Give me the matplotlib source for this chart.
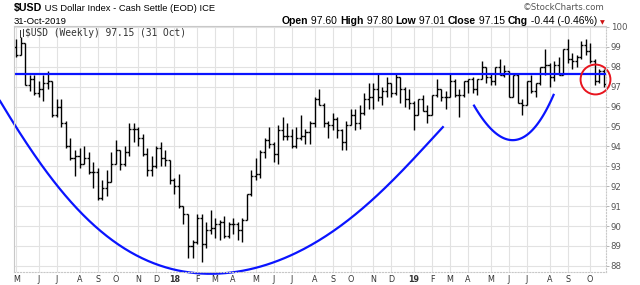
import numpy as np
import pandas as pd
import matplotlib
matplotlib.use("Agg")
import matplotlib.pyplot as plt
import matplotlib.transforms as mtransforms
from matplotlib.lines import Line2D

# weekly bars, Monday of each week
weeks = pd.date_range("2017-05-01", periods=131, freq="7D")

opens = [99.0, 98.6, 99.2, 97.1, 97.4, 96.7, 96.9, 97.2, 97.3, 95.6,
         96.0, 95.2, 94.0, 93.4, 93.5, 93.1, 93.4, 92.7, 92.7, 91.4,
         91.9, 92.2, 93.1, 93.8, 93.1, 93.7, 94.9, 94.9, 94.4, 93.6,
         92.8, 93.0, 93.9, 93.4, 93.3,
         92.3, 92.0, 91.0, 90.6, 89.0, 89.2, 90.4, 89.1, 89.8, 89.9,
         90.1, 90.2, 89.5, 90.1, 90.1, 89.8, 90.3, 91.6, 92.5, 92.6,
         93.7, 94.3, 94.1, 93.6, 94.8, 94.5, 94.5, 94.0, 94.4, 94.5,
         94.7, 95.2, 96.4, 96.1, 95.2, 95.1, 95.4, 94.8, 94.2, 95.1,
         95.6, 95.2, 95.7, 96.4, 96.5, 96.9, 96.5, 96.8, 97.2, 96.7,
         97.5, 96.9, 96.4,
         96.2, 95.6, 96.4, 95.8, 95.6, 96.6, 96.9, 96.5, 96.5, 97.3,
         96.6, 96.6, 97.3, 97.4, 96.9, 97.4, 98.0, 97.5, 97.3, 98.0,
         97.6, 97.8, 96.5, 97.6, 96.2, 96.1, 97.3, 96.8, 97.2, 98.0,
         98.1, 97.5, 98.1, 97.6, 98.9, 98.4, 98.3, 98.5, 99.1, 98.8,
         98.3, 97.3, 97.8]
highs = [99.4, 99.5, 99.2, 97.6, 97.6, 97.3, 97.6, 97.8, 97.3, 96.4,
         96.4, 95.3, 94.4, 93.8, 93.9, 94.0, 93.7, 93.2, 92.9, 92.3,
         92.8, 93.7, 94.3, 93.8, 94.0, 95.2, 95.2, 95.0, 94.6, 93.9,
         93.5, 94.0, 94.2, 93.8, 93.3,
         92.4, 92.6, 91.0, 90.6, 89.3, 90.6, 90.6, 90.2, 90.8, 90.4,
         90.3, 90.5, 90.2, 90.4, 90.2, 90.4, 91.6, 92.8, 93.4, 93.8,
         94.4, 95.0, 94.2, 95.1, 95.5, 95.2, 94.9, 95.0, 95.6, 94.9,
         95.3, 96.5, 96.9, 96.2, 95.3, 95.7, 95.5, 94.9, 95.3, 95.9,
         95.9, 96.1, 96.7, 97.2, 97.2, 97.7, 97.0, 97.5, 97.2, 97.7,
         97.5, 97.0, 96.9,
         96.3, 96.4, 96.6, 96.1, 96.6, 97.4, 96.9, 96.8, 97.7, 97.4,
         96.9, 97.3, 97.4, 97.5, 97.4, 98.3, 98.0, 97.7, 98.0, 98.4,
         98.1, 97.8, 97.6, 97.7, 96.4, 97.3, 97.6, 97.2, 98.0, 98.9,
         98.2, 98.3, 98.5, 98.9, 99.4, 98.7, 98.6, 99.3, 99.4, 99.2,
         98.4, 97.9, 97.9]
lows = [98.5, 98.6, 97.1, 96.8, 96.6, 96.5, 96.3, 96.9, 95.5, 95.5,
        95.0, 93.9, 93.3, 92.5, 92.9, 93.1, 92.6, 91.9, 91.3, 91.3,
        91.5, 92.2, 93.1, 92.8, 93.0, 93.5, 94.2, 94.0, 93.5, 92.5,
        92.5, 92.9, 93.0, 93.0, 92.1,
        91.6, 90.9, 90.1, 88.4, 88.4, 89.1, 88.2, 88.9, 89.6, 89.4,
        89.3, 89.4, 89.4, 89.6, 89.3, 89.2, 90.3, 91.5, 92.3, 92.4,
        93.4, 93.9, 93.2, 93.1, 94.3, 94.3, 93.9, 93.9, 94.3, 94.1,
        94.1, 95.0, 96.1, 95.0, 94.4, 94.8, 94.4, 93.8, 93.8, 95.1,
        94.8, 94.9, 95.6, 95.9, 95.9, 96.3, 96.1, 96.5, 96.5, 96.6,
        96.2, 96.0, 95.9,
        94.8, 95.6, 95.8, 95.2, 95.6, 96.5, 96.3, 95.9, 96.5, 96.5,
        95.5, 96.5, 96.7, 96.7, 96.6, 97.4, 97.2, 97.1, 97.1, 97.6,
        97.5, 96.5, 96.5, 96.2, 95.6, 96.1, 96.7, 96.5, 97.1, 97.6,
        97.0, 97.3, 97.6, 97.6, 98.2, 97.9, 98.0, 98.4, 98.6, 98.2,
        97.1, 97.2, 97.01]
closes = [98.6, 99.2, 97.1, 97.4, 96.7, 96.9, 97.2, 97.3, 95.6, 96.0,
          95.2, 94.0, 93.4, 93.5, 93.1, 93.4, 92.7, 92.7, 91.4, 91.9,
          92.2, 93.1, 93.8, 93.1, 93.7, 94.9, 94.9, 94.4, 93.6, 92.8,
          93.0, 93.9, 93.4, 93.3, 92.3,
          92.0, 91.0, 90.6, 89.0, 89.2, 90.4, 89.1, 89.8, 89.9, 90.1,
          90.2, 89.5, 90.1, 90.1, 89.8, 90.3, 91.6, 92.5, 92.6, 93.7,
          94.3, 94.1, 93.6, 94.8, 94.5, 94.5, 94.0, 94.4, 94.5, 94.7,
          95.2, 96.4, 96.1, 95.2, 95.1, 95.4, 94.8, 94.2, 95.1, 95.6,
          95.2, 95.7, 96.4, 96.5, 96.9, 96.5, 96.8, 97.2, 96.7, 97.5,
          96.9, 96.4, 96.2,
          95.6, 96.4, 95.8, 95.6, 96.6, 96.9, 96.5, 96.5, 97.3, 96.6,
          96.6, 97.3, 97.4, 96.9, 97.4, 98.0, 97.5, 97.3, 98.0, 97.6,
          97.8, 96.5, 97.6, 96.2, 96.1, 97.3, 96.8, 97.2, 98.0, 98.1,
          97.5, 98.1, 97.6, 98.9, 98.4, 98.3, 98.5, 99.1, 98.8, 98.3,
          97.3, 97.8, 97.15]

month_labels = ["M", "J", "J", "A", "S", "O", "N", "D", "18", "F", "M", "A",
                "M", "J", "J", "A", "S", "O", "N", "D", "19", "F", "M", "A",
                "M", "J", "J", "A", "S", "O"]
y_ticks = list(range(88, 101))

# hand drawn annotations (week index, value)
resist_level = 97.66
big_arc_x = [-3.6, -1.4, 4.5, 12.3, 25.2, 29.6, 34.7, 44.0, 51.3, 62.8, 73.8, 82.0, 89.3, 94.4]
big_arc_y = [96.33, 95.41, 93.40, 91.22, 88.71, 88.13, 87.80, 87.68, 87.84, 88.64, 90.45, 91.96, 93.72, 94.97]
small_arc_x = [101.3, 104.1, 107.0, 109.9, 113.0, 115.9, 118.9]
small_arc_y = [96.03, 95.18, 94.47, 94.32, 94.57, 95.33, 96.58]
circle_x, circle_y = 128.0, 97.39

W, H = 640, 285
fig = plt.figure(figsize=(W / 100, H / 100), dpi=100)
ax = fig.add_axes([14 / W, 1 - 272 / H, (606 - 14) / W, (272 - 26) / H])

idx = np.arange(len(weeks))
months = weeks.to_period("M")
month_idx = [0] + [i for i in range(1, len(weeks)) if months[i] != months[i - 1]]

ax.vlines(idx, lows, highs, color="black", lw=1.0)
ax.hlines(opens, idx - 0.45, idx, color="black", lw=1.0)
ax.hlines(closes, idx, idx + 0.45, color="black", lw=1.0)

# annotations
ax.axhline(resist_level, color="#0a14ff", lw=1.6)
p = np.polynomial.Polynomial.fit(big_arc_x, big_arc_y, 6)
xx = np.linspace(big_arc_x[0], big_arc_x[-1], 300)
ax.plot(xx, p(xx), color="#0a14ff", lw=1.6, clip_on=False)
p2 = np.polynomial.Polynomial.fit(small_arc_x, small_arc_y, 3)
xx2 = np.linspace(small_arc_x[0], small_arc_x[-1], 100)
ax.plot(xx2, p2(xx2), color="#0a14ff", lw=1.6)
ax.plot([circle_x], [circle_y], marker="o", ms=21.5, mfc="none", mec="#e8141e",
        mew=1.4, clip_on=False)

ax.set_xlim(-0.5, 130.5)
ax.set_ylim(87.69, 100.05)

ax.set_xticks(month_idx)
ax.set_xticklabels(month_labels)
for lab in ax.get_xticklabels():
    if lab.get_text() in ("18", "19"):
        lab.set_fontweight("bold")
        lab.set_color("black")
offset = mtransforms.ScaledTranslation(2 / 100, 0, fig.dpi_scale_trans)
for lab in ax.get_xticklabels():
    lab.set_transform(lab.get_transform() + offset)
ax.tick_params(axis="x", length=0, pad=2, labelsize=5.8, labelcolor="#333333")

ax.yaxis.tick_right()
ax.set_yticks(y_ticks)
ax.tick_params(axis="y", length=2, width=0.6, color="#aaaaaa", pad=1.5,
               labelsize=6.2, labelcolor="#555555")

ax.grid(True, color="#e2e2e2", lw=0.8)
ax.set_axisbelow(True)
for side, sp in ax.spines.items():
    sp.set_color("#c8c8c8")
    sp.set_linewidth(0.8)
ax.spines["right"].set_linestyle(":")
ax.spines["bottom"].set_linestyle(":")

font = ["Liberation Sans", "DejaVu Sans"]

# header line 1
t = fig.text(14 / W, 1 - 11 / H, "$USD", fontsize=7.7, fontweight="bold",
             family=font, va="baseline")
ax.annotate(" US Dollar Index - Cash Settle (EOD) ICE", xy=(1, 0), xycoords=t,
            fontsize=6.75, family=font, va="bottom", ha="left", annotation_clip=False)
fig.text(14 / W, 1 - 24 / H, "31-Oct-2019", fontsize=6.8, family=font, va="baseline")
fig.text(605 / W, 1 - 10 / H, "\u00a9StockCharts.com", fontsize=6.2, color="#555555",
         family=["DejaVu Sans"], ha="right", va="baseline")

# header line 2 (OHLC)
pieces = [("Open", True), (" 97.60 ", False), ("High", True), (" 97.80 ", False),
          ("Low", True), (" 97.01 ", False), ("Close", True), (" 97.15 ", False),
          ("Chg", True), (" -0.44 (-0.46%) ", False)]
prev = fig.text(282 / W, 1 - 24 / H, pieces[0][0], fontsize=7.5, fontweight="bold",
                family=font, va="baseline")
for txt, bold in pieces[1:]:
    prev = ax.annotate(txt, xy=(1, 0), xycoords=prev, fontsize=7.5,
                       fontweight="bold" if bold else "normal", family=font,
                       va="bottom", ha="left", annotation_clip=False)
ax.annotate("\u25bc", xy=(1, 0.1), xycoords=prev, fontsize=4.5, color="#cc1111",
            family=["DejaVu Sans"], va="bottom", ha="left", annotation_clip=False)

# label inside chart
fig.add_artist(Line2D([20 / W, 20 / W], [1 - 30 / H, 1 - 37 / H], color="#333333", lw=0.7))
fig.add_artist(Line2D([22.5 / W, 22.5 / W], [1 - 29 / H, 1 - 36 / H], color="#333333", lw=0.7))
ax.text(25 / W, 1 - 36.5 / H, "$USD (Weekly) 97.15 (31 Oct)", transform=fig.transFigure,
        fontsize=6.9, family=["DejaVu Sans Mono"], color="#333333", va="baseline")

fig.savefig("out.png", dpi=100)
